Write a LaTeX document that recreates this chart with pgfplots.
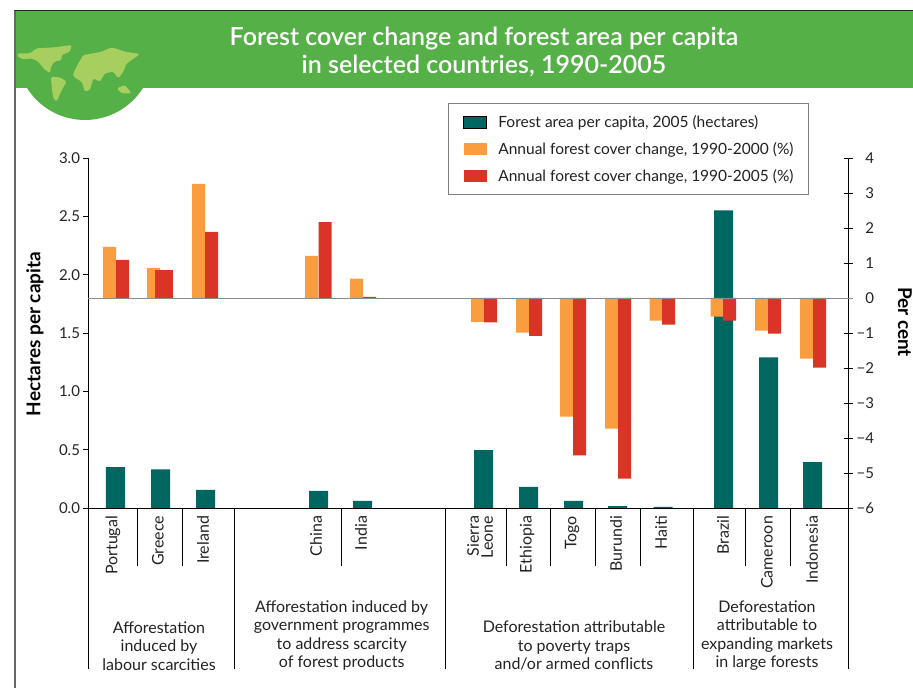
\documentclass[border=0pt]{standalone}
\usepackage{pgfplots}
\pgfplotsset{compat=1.18}
\usepackage{fontspec}
\setmainfont{Lato}
\newfontfamily\latosemi{Lato Semibold}
\definecolor{tealbar}{HTML}{006660}
\definecolor{orangebar}{HTML}{FA9D3F}
\definecolor{redbar}{HTML}{D93425}
\definecolor{banner}{HTML}{55B047}
\definecolor{mapc}{HTML}{A6CF5F}
\definecolor{txt}{HTML}{222222}
\pgfplotsset{swatch/.style={legend image code/.code={\fill[##1] (0pt,-6pt) rectangle (23pt,6pt);}}}
\begin{document}
\begin{tikzpicture}[x=1pt,y=1pt]
\path[use as bounding box] (0,0) rectangle (913,688);
\begin{scope}[yshift=688pt,y=-1pt]
  \fill[banner] (15,11) rectangle (913,88);
  \begin{scope}
    \clip (15,11) rectangle (913,130);
    \fill[banner] (85,51.5) circle (68.5);
  \end{scope}
  \draw[black!60,line width=1.5pt] (15,688) -- (15,10.5);
  \draw[black!85,line width=1pt] (14.5,10.5) -- (913,10.5);
  \begin{scope}[shift={(15,40)},x=0.3333pt,y=-0.3333pt,rounded corners=1.5pt]
    \fill[mapc] (8,40) -- (45,40) -- (65,25) -- (120,22) -- (170,15) -- (165,35) -- (140,45) -- (140,60) -- (118,65) -- (108,80) -- (105,100) -- (85,85) -- (70,65) -- (50,55) -- (25,58) -- (8,50) -- cycle;
    \fill[mapc] (108,110) -- (135,112) -- (155,125) -- (140,150) -- (125,185) -- (115,175) -- (110,140) -- cycle;
    \fill[mapc] (175,100) -- (190,70) -- (205,45) -- (235,40) -- (260,35) -- (290,22) -- (330,35) -- (375,42) -- (350,60) -- (335,70) -- (325,95) -- (310,115) -- (295,95) -- (270,100) -- (255,125) -- (235,115) -- (225,150) -- (210,155) -- (200,125) -- (175,110) -- cycle;
    \fill[mapc] (305,145) -- (330,135) -- (350,160) -- (320,160) -- cycle;
  \end{scope}
\end{scope}
\node[white,font=\fontsize{25}{27.5}\selectfont\latosemi,align=center] at (484,636) {Forest cover change and forest area per capita\\in selected countries, 1990-2005};

\begin{axis}[at={(88pt,180pt)},anchor=south west,scale only axis,width=760pt,height=350pt,
  xmin=88,xmax=848,ymin=0,ymax=3,
  axis y line*=left,axis x line*=bottom,
  axis line style={line width=0.9pt,-},
  tick style={line width=0.9pt,black},
  tick align=outside,
  major tick length=4.5pt,
  clip=false,
  ytick={0,0.5,1,1.5,2,2.5,3},
  yticklabels={0.0,0.5,1.0,1.5,2.0,2.5,3.0},
  yticklabel style={font=\fontsize{15}{17}\selectfont,text=txt},
  xtick={113,158,203,316,361,480,527,572,616,661,723,767,812},
  xticklabels={Portugal,Greece,Ireland,China,India,{Sierra\\Leone},Ethiopia,Togo,Burundi,Haiti,Brazil,Cameroon,Indonesia},
  x tick style={draw=none},
  xticklabel style={rotate=90,anchor=east,align=right,font=\fontsize{16}{14}\selectfont,text=txt},
  ylabel={Hectares per capita},
  every axis y label/.style={at={(axis description cs:-0.0697,0.497)},rotate=90,anchor=center,font=\fontsize{19}{21}\selectfont\bfseries,text=black},
  ytick pos=left,
]
\addplot[ybar,bar width=19pt,bar shift=0pt,fill=tealbar,draw=none] coordinates {
(115.5,0.35)(160.5,0.33)(205.5,0.155)(318.5,0.146)(362.5,0.06)
(483.5,0.497)(528.5,0.18)(573.5,0.06)(617.5,0.017)(663,0.01)
(723.5,2.55)(768.5,1.29)(812.5,0.394)};
\end{axis}

\begin{axis}[at={(88pt,180pt)},anchor=south west,scale only axis,width=760pt,height=350pt,
  xmin=88,xmax=848,ymin=-6,ymax=4,
  axis y line*=right,axis x line=none,
  axis line style={line width=0.9pt,-},
  tick style={line width=0.9pt,black},
  tick align=center,
  major tick length=9pt,
  clip=false,
  ytick={-6,-5,-4,-3,-2,-1,0,1,2,3,4},
  yticklabels={−6,−5,−4,−3,−2,−1,0,1,2,3,4},
  yticklabel style={font=\fontsize{15}{17}\selectfont,text=txt,anchor=east,xshift=25pt},
  legend cell align=left,
  legend style={at={(0.4737,1.157)},anchor=north west,draw=black!50,line width=0.9pt,fill=white,
    font=\fontsize{15.5}{18}\selectfont,text=txt,inner xsep=15pt,inner ysep=8.5pt,
    row sep=7pt,column sep=11pt,nodes={inner sep=0pt,minimum height=20pt}},
]
\addlegendimage{swatch,fill=tealbar}
\addlegendentry{Forest area per capita, 2005 (hectares)}
\addplot[ybar,bar width=13pt,bar shift=0pt,fill=orangebar,draw=none,swatch] coordinates {
(109.5,1.46)(153.5,0.86)(198.5,3.26)(311.5,1.2)(356.5,0.55)
(477.5,-0.68)(522.5,-0.99)(566.5,-3.39)(611.5,-3.73)(656,-0.65)
(717,-0.53)(761.5,-0.93)(806.5,-1.73)};
\addlegendentry{Annual forest cover change, 1990-2000 (\%)\hspace{7pt}}
\addplot[ybar,bar width=13pt,bar shift=0pt,fill=redbar,draw=none,swatch] coordinates {
(122.5,1.09)(211.5,1.89)(325,2.17)(369.5,0.03)
(490.5,-0.70)(535.5,-1.08)(579.5,-4.5)(624.5,-5.16)(668.5,-0.76)
(729.5,-0.65)(774.5,-1.02)(819.5,-1.99)};
\addlegendentry{Annual forest cover change, 1990-2005 (\%)}
\addplot[ybar,bar width=18pt,bar shift=0pt,fill=redbar,draw=none,forget plot] coordinates {(164,0.8)};
\end{axis}

\begin{scope}[yshift=688pt,y=-1pt]
  \draw[black!45,line width=1pt] (88,298.4) -- (853,298.4);
  \foreach \x in {137.7,182.3,341.3,506.3,550.3,595.3,640.3,745.3,790.3} \draw[line width=0.8pt] (\x,508) -- (\x,566);
  \foreach \x in {88.3,234.3,445.5,693.3,848} \draw[line width=0.8pt] (\x,508) -- (\x,669.5);
  \node[rotate=-90,font=\fontsize{19}{21}\selectfont\bfseries] at (905,322) {Per cent};
  \begin{scope}[every node/.style={align=center,anchor=south,text=txt,font=\fontsize{16}{18.5}\selectfont}]
  \node at (159,674) {Afforestation\\induced by\\labour scarcities};
  \node at (341.7,674) {Afforestation induced by\\government programmes\\to address scarcity\\of forest products};
  \node at (574,674) {Deforestation attributable\\to poverty traps\\and/or armed conflicts};
  \node at (767,674) {Deforestation\\attributable to\\expanding markets\\in large forests};
  \end{scope}
\end{scope}
\end{tikzpicture}
\end{document}
